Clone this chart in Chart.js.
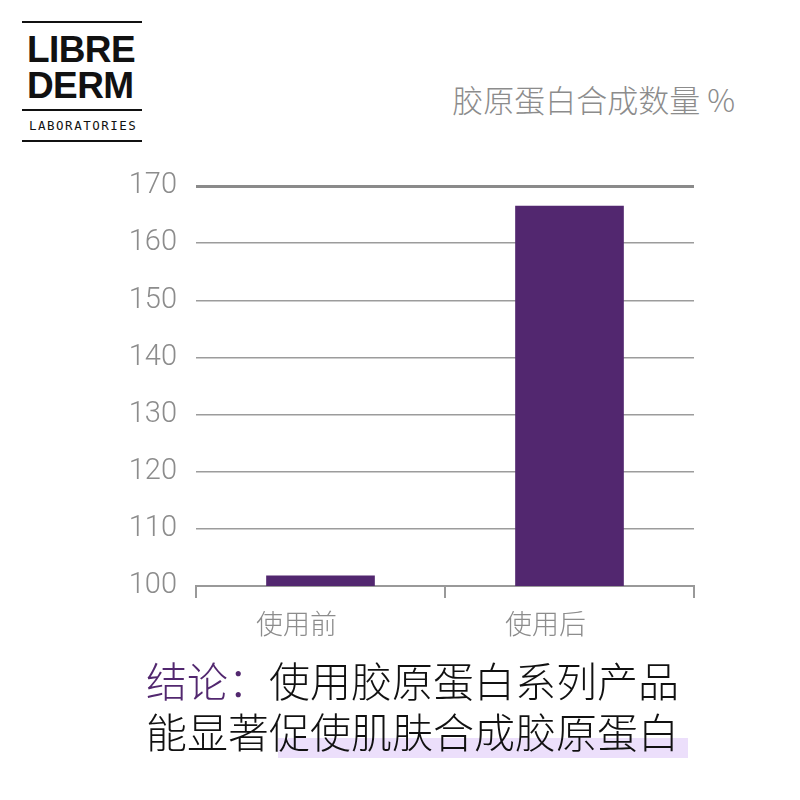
<!DOCTYPE html>
<html>
<head>
<meta charset="utf-8">
<script src="https://cdn.jsdelivr.net/npm/chart.js@4"></script>
<style>
  body { margin: 0; background: #fff; }
  #page { position: relative; width: 800px; height: 800px; overflow: hidden; }
  #chartBox { position: absolute; left: 0; top: 0; width: 800px; height: 800px; }
  .rule { position: absolute; left: 22px; width: 120px; height: 2px; background: #111; }
  .logo { position: absolute; left: 27px; font-family: "Liberation Sans", Arial, sans-serif; font-size: 37px; font-weight: bold; color: #111; letter-spacing: -0.6px; line-height: 37px; }
  #labs { position: absolute; left: 29px; top: 118px; font-family: "DejaVu Sans Mono", monospace; font-size: 12.5px; letter-spacing: 1.5px; color: #111; }
  #title { position: absolute; right: 65px; top: 81px; font-family: "Noto Sans CJK SC", sans-serif; font-weight: 300; font-size: 31px; color: #8c8c8c; line-height: 36px; }
  #hl { position: absolute; left: 278px; top: 738px; width: 410px; height: 20px; background: #ecdffb; }
  #concl { position: absolute; left: 146px; top: 654px; font-family: "Noto Sans CJK SC", sans-serif; font-weight: 300; font-size: 41px; line-height: 51px; color: #111; }
  #concl .k { color: #52276f; }
</style>
</head>
<body>
<div id="page">
  <div class="rule" style="top:21px"></div>
  <div class="logo" style="top:31px">LIBRE</div>
  <div class="logo" style="top:67px">DERM</div>
  <div class="rule" style="top:109px"></div>
  <div id="labs">LABORATORIES</div>
  <div class="rule" style="top:140px"></div>
  <div id="title">胶原蛋白合成数量 %</div>
  <div id="chartBox"><canvas id="chart" width="800" height="800"></canvas></div>
  <div id="hl"></div>
  <div id="concl"><span class="k">结论：</span>使用胶原蛋白系列产品<br>能显著促使肌肤合成胶原蛋白</div>
</div>
<script>
// 数据
const categories = ["使用前", "使用后"];
const collagen = [101.8, 166.5];
const yTicks = [100, 110, 120, 130, 140, 150, 160, 170];

const barColor = "#52276f";
const gray = "#8c8c8c";

const ctx = document.getElementById("chart").getContext("2d");
const myChart = new Chart(ctx, {
  type: "bar",
  data: {
    labels: categories,
    datasets: [
      {
        label: "胶原蛋白合成数量 %",
        data: collagen,
        backgroundColor: barColor,
        borderWidth: 0,
        barThickness: 108,
      },
    ],
  },
  options: {
    responsive: false,
    animation: false,
    layout: { padding: { left: 0, right: 106, top: 186, bottom: 0 } },
    plugins: { legend: { display: false }, tooltip: { enabled: false } },
    scales: {
      x: {
        offset: true,
        grid: {
          drawOnChartArea: false,
          drawTicks: true,
          tickLength: 12,
          color: "#999",
          lineWidth: 2,
        },
        border: { display: true, color: "#999", width: 2 },
        ticks: {
          color: gray,
          padding: 10,
          labelOffset: -24,
          font: { family: "'Noto Sans CJK SC', sans-serif", size: 27, weight: 300 },
        },
        afterFit: (scale) => { scale.height = 214; },
      },
      y: {
        min: 100,
        max: 170,
        afterBuildTicks: (scale) => { scale.ticks = yTicks.map((v) => ({ value: v })); },
        grid: {
          drawTicks: false,
          color: (c) => (c.tick && c.tick.value === 170 ? "#8a8a8a" : "#9c9c9c"),
          lineWidth: (c) => (c.tick && c.tick.value === 170 ? 3 : 1.5),
        },
        border: { display: false },
        ticks: {
          color: gray,
          padding: 19,
          font: { family: "Roboto, 'Liberation Sans', sans-serif", size: 29, weight: 300 },
        },
        afterFit: (scale) => { scale.width = 196; },
      },
    },
  },
});
</script>
</body>
</html>
